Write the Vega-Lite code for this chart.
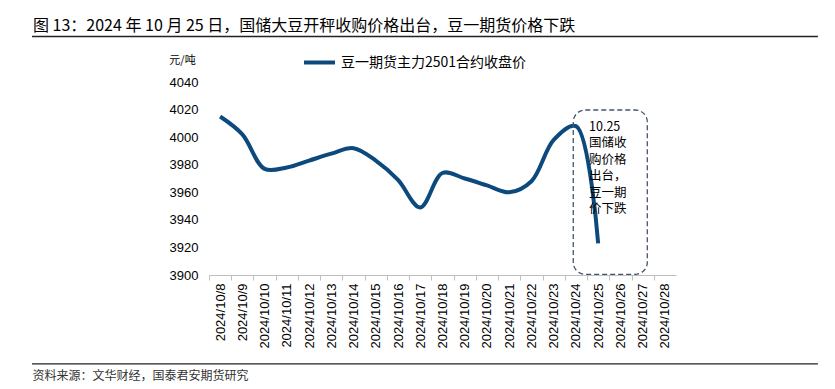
{
  "$schema": "https://vega.github.io/schema/vega-lite/v6.json",
  "width": 467,
  "height": 193,
  "autosize": "none",
  "padding": {"left": 209, "top": 82, "right": 159, "bottom": 114},
  "background": "white",
  "config": {"view": {"stroke": null}, "font": "Noto Sans CJK SC"},
  "title": {
    "text": "图 13：2024 年 10 月 25 日，国储大豆开秤收购价格出台，豆一期货价格下跌",
    "anchor": "start",
    "frame": "group",
    "orient": "top",
    "dx": -176,
    "dy": 17,
    "offset": 6,
    "baseline": "alphabetic",
    "font": "Noto Sans CJK SC",
    "fontSize": 16,
    "fontWeight": "normal",
    "color": "#000000"
  },
  "datasets": {
    "prices": [
      {"day": 8, "price": 4015, "series": "豆一期货主力2501合约收盘价"},
      {"day": 9, "price": 4002, "series": "豆一期货主力2501合约收盘价"},
      {"day": 10, "price": 3977, "series": "豆一期货主力2501合约收盘价"},
      {"day": 11, "price": 3978, "series": "豆一期货主力2501合约收盘价"},
      {"day": 12, "price": 3983, "series": "豆一期货主力2501合约收盘价"},
      {"day": 13, "price": 3988, "series": "豆一期货主力2501合约收盘价"},
      {"day": 14, "price": 3992, "series": "豆一期货主力2501合约收盘价"},
      {"day": 15, "price": 3983, "series": "豆一期货主力2501合约收盘价"},
      {"day": 16, "price": 3969, "series": "豆一期货主力2501合约收盘价"},
      {"day": 17, "price": 3949, "series": "豆一期货主力2501合约收盘价"},
      {"day": 18, "price": 3974, "series": "豆一期货主力2501合约收盘价"},
      {"day": 19, "price": 3970, "series": "豆一期货主力2501合约收盘价"},
      {"day": 20, "price": 3965, "series": "豆一期货主力2501合约收盘价"},
      {"day": 21, "price": 3960, "series": "豆一期货主力2501合约收盘价"},
      {"day": 22, "price": 3968, "series": "豆一期货主力2501合约收盘价"},
      {"day": 23, "price": 3998, "series": "豆一期货主力2501合约收盘价"},
      {"day": 24, "price": 4008, "series": "豆一期货主力2501合约收盘价"},
      {"day": 25, "price": 3923, "series": "豆一期货主力2501合约收盘价"}
    ]
  },
  "resolve": {"axis": {"x": "independent", "y": "independent"}},
  "layer": [
    {
      "data": {"name": "prices"},
      "mark": {"type": "line", "strokeWidth": 4, "interpolate": "catmull-rom", "clip": false},
      "encoding": {
        "x": {
          "field": "day",
          "type": "quantitative",
          "scale": {"domain": [7.5, 28.5], "nice": false, "zero": false},
          "axis": {
            "values": [8, 9, 10, 11, 12, 13, 14, 15, 16, 17, 18, 19, 20, 21, 22, 23, 24, 25, 26, 27, 28, 29],
            "labelExpr": "datum.value <= 28 ? '2024/10/' + datum.value : ''",
            "labelAngle": -90,
            "labelAlign": "right",
            "labelBaseline": "middle",
            "labelFont": "Liberation Sans",
            "labelFontSize": 13,
            "labelColor": "#000000",
            "labelPadding": 3,
            "labelOverlap": false,
            "labelBound": false,
            "labelFlush": false,
            "tickOffset": -11.12,
            "labelOffset": 11.12,
            "tickSize": 5,
            "tickColor": "#BFBFBF",
            "domainColor": "#BFBFBF",
            "grid": false,
            "title": "资料来源：文华财经，国泰君安期货研究",
            "titleFont": "Noto Sans CJK SC",
            "titleFontSize": 12,
            "titleFontWeight": "normal",
            "titleColor": "#333333",
            "titleAnchor": "start",
            "titleAlign": "left",
            "titleBaseline": "middle",
            "titleX": -177,
            "titleY": 100
          }
        },
        "y": {
          "field": "price",
          "type": "quantitative",
          "scale": {"domain": [3900, 4040], "nice": false, "zero": false},
          "axis": {
            "values": [3900, 3920, 3940, 3960, 3980, 4000, 4020, 4040],
            "format": "d",
            "labelOverlap": false,
            "domain": false,
            "ticks": false,
            "grid": false,
            "labelFont": "Liberation Sans",
            "labelFontSize": 13,
            "labelColor": "#000000",
            "labelPadding": 11,
            "title": "元/吨",
            "titleAngle": 0,
            "titleFont": "Noto Sans CJK SC",
            "titleFontSize": 11,
            "titleFontWeight": "normal",
            "titleColor": "#000000",
            "titleAlign": "center",
            "titleBaseline": "middle",
            "titleX": -27,
            "titleY": -22
          }
        },
        "color": {
          "field": "series",
          "type": "nominal",
          "scale": {"range": ["#0C4A7E"]},
          "legend": {
            "orient": "none",
            "legendX": 93,
            "legendY": -37,
            "title": null,
            "symbolType": "stroke",
            "symbolSize": 961,
            "symbolStrokeWidth": 4,
            "labelFont": "Noto Sans CJK SC",
            "labelFontSize": 14,
            "labelColor": "#000000",
            "labelOffset": 4,
            "labelLimit": 400
          }
        }
      }
    },
    {
      "data": {"values": [{}]},
      "mark": {"type": "rect", "fill": "transparent", "stroke": "#44546A", "strokeWidth": 1.3, "strokeDash": [5, 3], "cornerRadius": 12},
      "encoding": {
        "x": {"datum": 23.88, "type": "quantitative", "axis": null},
        "x2": {"datum": 27.21},
        "y": {"datum": 4019.7, "type": "quantitative", "axis": null},
        "y2": {"datum": 3900.5}
      }
    },
    {
      "data": {"values": [{}]},
      "mark": {"type": "text", "align": "left", "baseline": "middle", "font": "Noto Sans CJK SC", "fontSize": 12.5, "lineHeight": 16.5, "color": "#000000"},
      "encoding": {
        "x": {"datum": 24.59, "type": "quantitative", "axis": null},
        "y": {"datum": 4007.4, "type": "quantitative", "axis": null},
        "text": {"value": ["10.25", "国储收", "购价格", "出台，", "豆一期", "价下跌"]}
      }
    },
    {
      "data": {"values": [{}]},
      "mark": {"type": "rule", "color": "#222222", "strokeWidth": 1.3},
      "encoding": {
        "x": {"datum": -0.46, "type": "quantitative", "axis": null},
        "x2": {"datum": 34.88},
        "y": {"datum": 4073, "type": "quantitative", "axis": null}
      }
    },
    {
      "data": {"values": [{}]},
      "mark": {"type": "rule", "color": "#222222", "strokeWidth": 1.3},
      "encoding": {
        "x": {"datum": -0.46, "type": "quantitative", "axis": null},
        "x2": {"datum": 34.88},
        "y": {"datum": 3835.5, "type": "quantitative", "axis": null}
      }
    }
  ]
}
